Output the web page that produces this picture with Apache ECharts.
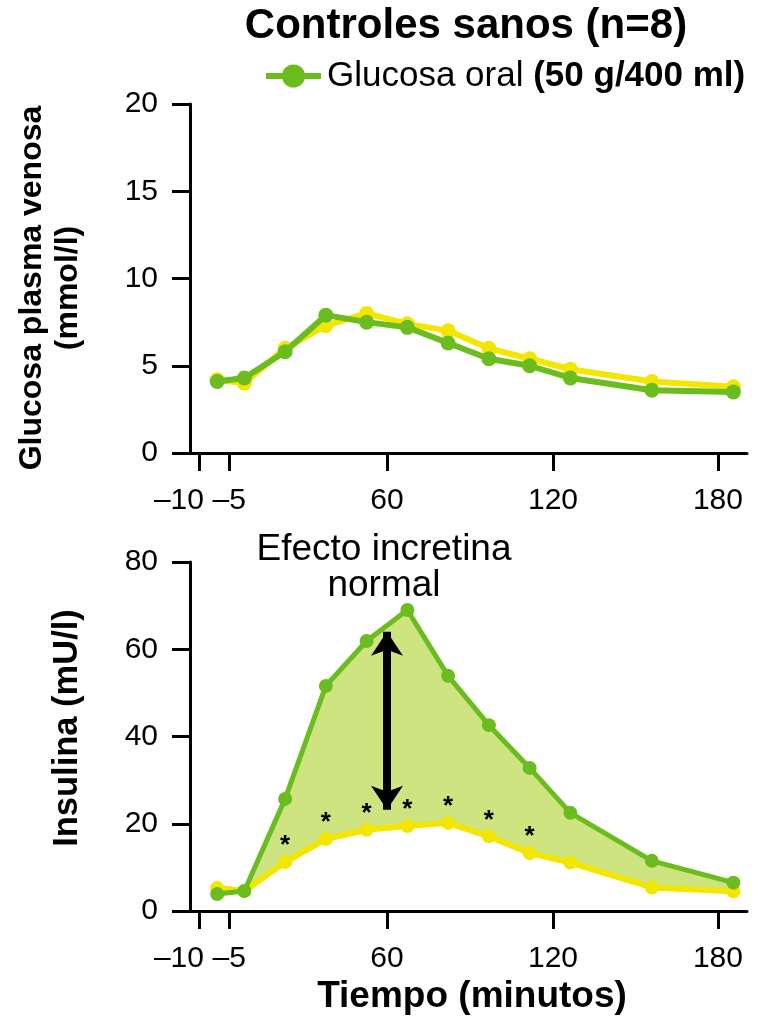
<!DOCTYPE html>
<html>
<head>
<meta charset="utf-8">
<script src="https://cdn.jsdelivr.net/npm/echarts@6/dist/echarts.min.js"></script>
<style>
  html, body { margin: 0; padding: 0; background: #ffffff; }
  #chart { width: 758px; height: 1017px; }
</style>
</head>
<body>
<div id="chart"></div>
<script>
// Sampling times (minutes) shared by every curve
const minutes = [-10, 0, 15, 30, 45, 60, 75, 90, 105, 120, 150, 180];

// Venous plasma glucose (mmol/l)
const glucoseOral = [4.1, 4.3, 5.8, 7.9, 7.5, 7.2, 6.3, 5.4, 5.0, 4.3, 3.6, 3.5];
const glucoseIv   = [4.2, 4.0, 6.0, 7.3, 8.0, 7.4, 7.0, 6.0, 5.4, 4.8, 4.1, 3.8];

// Insulin (mU/l)
const insulinOral = [3.9, 4.6, 25.7, 51.6, 61.9, 69.0, 53.9, 42.6, 32.8, 22.5, 11.5, 6.5];
const insulinIv   = [5.3, 4.6, 11.2, 16.5, 18.6, 19.5, 20.2, 17.1, 13.3, 11.1, 5.4, 4.5];

// Time points with a significant oral vs. iv difference
const significant = [false, false, true, true, true, true, true, true, true, false, false, false];

// Time axis ticks and their labels
const timeTicks  = [-16.7, -5.6, 52.5, 113.6, 174.3];
const timeLabels = ['–10', '–5', '60', '120', '180'];

// Extent of the double arrow marking the incretin effect (mU/l)
const arrowSpan = [23.2, 64.0];

const GREEN = '#6bbd1f';
const YELLOW = '#f3e600';
const FILL = '#cde480';
const FONT = "'Liberation Sans', Arial, Helvetica, sans-serif";

const pairs = (vals) => minutes.map((t, i) => [t, vals[i]]);

// One quad per interval, bounded by the oral (top) and iv (bottom) insulin curves
const band = minutes.slice(0, -1).map((t, i) => [
  t, minutes[i + 1], insulinOral[i], insulinOral[i + 1], insulinIv[i], insulinIv[i + 1]
]);

function timeLabel(value) {
  let best = 0;
  timeTicks.forEach((t, i) => {
    if (Math.abs(t - value) < Math.abs(timeTicks[best] - value)) best = i;
  });
  return best === 0 ? '{lead|' + timeLabels[0] + '}' : timeLabels[best];
}

function timeAxis(gridIndex) {
  return {
    type: 'value', gridIndex, min: -20, max: 185,
    axisLine: { show: true, onZero: false, lineStyle: { color: '#000', width: 3 } },
    axisTick: { show: true, length: 18, customValues: timeTicks, lineStyle: { color: '#000', width: 3 } },
    axisLabel: {
      show: true, customValues: timeTicks, margin: 33, color: '#000',
      fontSize: 30, fontFamily: FONT, formatter: timeLabel,
      rich: { lead: { fontSize: 30, fontFamily: FONT, color: '#000', padding: [0, 40, 0, 0] } }
    },
    splitLine: { show: false }
  };
}

function valueAxis(gridIndex, max, interval) {
  return {
    type: 'value', gridIndex, min: 0, max, interval,
    axisLine: { show: true, onZero: false, lineStyle: { color: '#000', width: 3 } },
    axisTick: { show: true, length: 18, lineStyle: { color: '#000', width: 3 } },
    axisLabel: { margin: 32, color: '#000', fontSize: 30, fontFamily: FONT },
    splitLine: { show: false }
  };
}

const chart = echarts.init(document.getElementById('chart'), null, { renderer: 'canvas' });

chart.setOption({
  animation: false,
  backgroundColor: '#ffffff',
  grid: [
    { left: 190, top: 104, width: 557, height: 349, containLabel: false, outerBoundsMode: 'none' },
    { left: 190, top: 562, width: 557, height: 349, containLabel: false, outerBoundsMode: 'none' }
  ],
  xAxis: [timeAxis(0), timeAxis(1)],
  yAxis: [valueAxis(0, 20, 5), valueAxis(1, 80, 20)],
  legend: {
    data: ['Glucosa oral'],
    left: 263, top: 58.5, padding: 0,
    itemWidth: 55, itemHeight: 29,
    lineStyle: { width: 6, color: GREEN },
    selectedMode: false,
    formatter: (name) => '{r|' + name + ' }{b|(50 g/400 ml)}',
    textStyle: {
      color: '#000',
      rich: {
        r: { fontSize: 35, fontFamily: FONT, color: '#000', padding: [0, 0, 0, 1] },
        b: { fontSize: 35, fontFamily: FONT, fontWeight: 'bold', color: '#000' }
      }
    }
  },
  graphic: [
    {
      type: 'text', x: 466, y: 26,
      style: { text: 'Controles sanos (n=8)', font: 'bold 42px ' + FONT, fill: '#000',
               textAlign: 'center', textVerticalAlign: 'middle' }
    },
    {
      type: 'text', x: 50, y: 288, rotation: Math.PI / 2,
      style: { text: 'Glucosa plasma venosa\n(mmol/l)', font: 'bold 32px ' + FONT, fill: '#000',
               lineHeight: 36, textAlign: 'center', textVerticalAlign: 'middle' }
    },
    {
      type: 'text', x: 67, y: 728, rotation: Math.PI / 2,
      style: { text: 'Insulina (mU/l)', font: 'bold 34.5px ' + FONT, fill: '#000',
               textAlign: 'center', textVerticalAlign: 'middle' }
    },
    {
      type: 'text', x: 472, y: 997,
      style: { text: 'Tiempo (minutos)', font: 'bold 37px ' + FONT, fill: '#000',
               textAlign: 'center', textVerticalAlign: 'middle' }
    },
    {
      type: 'text', x: 384, y: 568,
      style: { text: 'Efecto incretina\nnormal', font: '37px ' + FONT, fill: '#000',
               lineHeight: 36, textAlign: 'center', textVerticalAlign: 'middle' }
    }
  ],
  series: [
    // Glucose panel
    {
      name: 'Glucosa intravenosa', type: 'line', xAxisIndex: 0, yAxisIndex: 0,
      data: pairs(glucoseIv), symbol: 'circle', symbolSize: 15,
      lineStyle: { color: YELLOW, width: 6 }, itemStyle: { color: YELLOW }, z: 2
    },
    {
      name: 'Glucosa oral', type: 'line', xAxisIndex: 0, yAxisIndex: 0,
      data: pairs(glucoseOral), symbol: 'circle', symbolSize: 15,
      lineStyle: { color: GREEN, width: 6 }, itemStyle: { color: GREEN }, z: 3
    },
    // Insulin panel: shaded band between the two curves
    {
      name: 'Efecto incretina', type: 'custom', xAxisIndex: 1, yAxisIndex: 1,
      data: band, encode: { x: [0, 1], y: [2, 3, 4, 5] }, silent: true, z: 1,
      renderItem: (params, api) => ({
        type: 'polygon',
        shape: {
          points: [
            api.coord([api.value(0), api.value(2)]),
            api.coord([api.value(1), api.value(3)]),
            api.coord([api.value(1), api.value(5)]),
            api.coord([api.value(0), api.value(4)])
          ]
        },
        style: { fill: FILL, stroke: FILL, lineWidth: 1 }
      })
    },
    {
      name: 'Insulina intravenosa', type: 'line', xAxisIndex: 1, yAxisIndex: 1,
      data: minutes.map((t, i) => ({ value: [t, insulinIv[i]], label: { show: significant[i] } })),
      symbol: 'circle', symbolSize: 14,
      lineStyle: { color: YELLOW, width: 6 }, itemStyle: { color: YELLOW },
      label: { show: false, position: 'top', distance: -4, formatter: '*',
               fontSize: 26, fontWeight: 'bold', fontFamily: FONT, color: '#000' },
      z: 2
    },
    {
      name: 'Glucosa oral', type: 'line', xAxisIndex: 1, yAxisIndex: 1,
      data: pairs(insulinOral), symbol: 'circle', symbolSize: 14,
      lineStyle: { color: GREEN, width: 5 }, itemStyle: { color: GREEN }, z: 3,
      markLine: {
        silent: true, symbol: ['arrow', 'arrow'], symbolSize: [24, 24],
        label: { show: false },
        lineStyle: { color: '#000', width: 8, type: 'solid' },
        emphasis: { disabled: true },
        data: [[{ coord: [timeTicks[2], arrowSpan[1]] }, { coord: [timeTicks[2], arrowSpan[0]] }]]
      }
    }
  ]
});
</script>
</body>
</html>
